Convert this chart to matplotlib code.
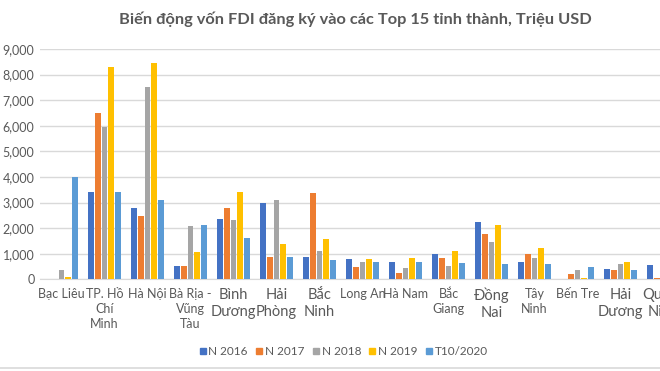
import matplotlib

matplotlib.use("Agg")
import matplotlib.pyplot as plt
import numpy as np
from matplotlib.ticker import FuncFormatter, MultipleLocator
from matplotlib.lines import Line2D

provinces = [
    "Bạc Liêu", "TP. Hồ\nChí\nMinh", "Hà Nội", "Bà Rịa -\nVũng\nTàu", "Bình\nDương",
    "Hải\nPhòng", "Bắc\nNinh", "Long An", "Hà Nam", "Bắc\nGiang",
    "Đồng\nNai", "Tây\nNinh", "Bến Tre", "Hải\nDương", "Quảng\nNinh",
]
big_labels = {"Bình\nDương", "Hải\nPhòng", "Bắc\nNinh", "Đồng\nNai", "Hải\nDương", "Quảng\nNinh"}

series_names = ["N 2016", "N 2017", "N 2018", "N 2019", "T10/2020"]
n2016 = [0, 3410, 2790, 520, 2360, 2980, 870, 790, 680, 990, 2240, 680, 0, 400, 560]
n2017 = [0, 6500, 2470, 520, 2790, 870, 3370, 480, 250, 830, 1770, 990, 210, 360, 50]
n2018 = [360, 5950, 7510, 2080, 2320, 3100, 1110, 680, 440, 520, 1460, 830, 360, 600, 0]
n2019 = [90, 8290, 8450, 1070, 3410, 1380, 1580, 790, 830, 1110, 2120, 1220, 50, 680, 0]
t10_2020 = [4000, 3410, 3100, 2120, 1610, 870, 760, 680, 680, 640, 600, 600, 480, 360, 0]
colors = ["#4472C4", "#ED7D31", "#A5A5A5", "#FFC000", "#5B9BD5"]

TEXT = "#595959"
GRID = "#D9D9D9"

plt.rcParams["font.family"] = ["Lato", "DejaVu Sans"]

fig = plt.figure(figsize=(6.6, 3.71), dpi=100)
fig.patch.set_facecolor("white")

# plot area runs past the right edge, like the cropped original
ax = fig.add_axes([40 / 660, 91.7 / 371, 645 / 660, 230.3 / 371])

x = np.arange(len(provinces))
pitch = 0.155
width = 0.125
for i, (vals, name, col) in enumerate(zip([n2016, n2017, n2018, n2019, t10_2020], series_names, colors)):
    ax.bar(x + (i - 2) * pitch, vals, width=width, color=col, label=name, zorder=3)

ax.set_xlim(-0.5, len(provinces) - 0.5)
ax.set_ylim(0, 9000)
ax.yaxis.set_major_locator(MultipleLocator(1000))
ax.yaxis.set_major_formatter(FuncFormatter(lambda v, _: f"{int(v):,}"))
ax.grid(axis="y", color=GRID, linewidth=1, zorder=0)
for s in ["top", "right", "left"]:
    ax.spines[s].set_visible(False)
ax.spines["bottom"].set_color(GRID)
ax.tick_params(axis="both", length=0, colors=TEXT, labelsize=9)
ax.tick_params(axis="y", pad=4)
ax.tick_params(axis="x", pad=6)

ax.set_xticks(x)
ax.set_xticklabels(provinces, linespacing=1.3)
for lbl in ax.get_xticklabels():
    if lbl.get_text() in big_labels:
        lbl.set_fontsize(10.5)
    else:
        lbl.set_fontsize(9)

fig.text(0.538, 0.948, "Biến động vốn FDI đăng ký vào các Top 15 tỉnh thành, Triệu USD",
         ha="center", va="center", fontsize=11.8, fontweight="bold", color=TEXT)

handles = [Line2D([], [], marker="s", linestyle="", markersize=5, color=c) for c in colors]
fig.legend(handles, series_names, loc="center", bbox_to_anchor=(0.52, 0.053), ncol=5,
           frameon=False, fontsize=8.5, handlelength=0.7, handletextpad=0.15,
           columnspacing=0.6, labelcolor=TEXT)

fig.add_artist(Line2D([0, 1], [3 / 371, 3 / 371], color=GRID, linewidth=1.2))

fig.savefig("out.png", dpi=100)
